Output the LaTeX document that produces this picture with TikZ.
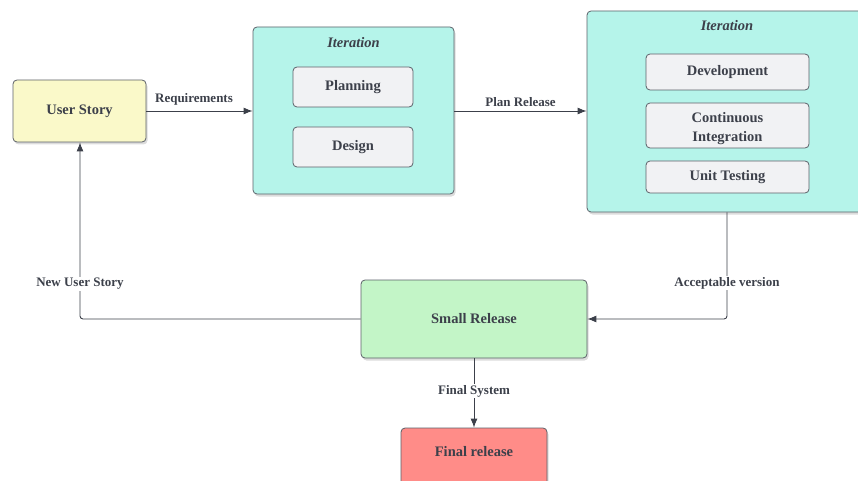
\documentclass[tikz,border=0pt]{standalone}
\usepackage{fontspec}
\setmainfont{Liberation Serif}
\usetikzlibrary{shadows,arrows.meta}

\definecolor{ink}{HTML}{3C404A}
\definecolor{edge}{HTML}{5C6169}
\definecolor{storyfill}{HTML}{FAF9C9}
\definecolor{iterfill}{HTML}{B5F4EA}
\definecolor{taskfill}{HTML}{F1F2F4}
\definecolor{releasefill}{HTML}{C3F5C7}
\definecolor{finalfill}{HTML}{FF8C88}

\tikzset{
  box/.style={draw=edge, line width=0.8pt, rounded corners=4pt,
    text=ink, font=\fontsize{14.5}{17}\selectfont\bfseries, align=center,
    drop shadow={opacity=0.28, shadow xshift=1.5pt, shadow yshift=-2.5pt}},
  taskbox/.style={draw=edge, line width=0.8pt, rounded corners=4pt, fill=taskfill,
    text=ink, font=\fontsize{14.5}{19}\selectfont\bfseries, align=center,
    minimum width=120pt},
  boxtext/.style={text=ink, font=\fontsize{14.5}{19}\selectfont\bfseries, align=center},
  flow/.style={draw=ink, line width=0.9pt, -{Latex[length=9pt,width=7pt]}},
  lbl/.style={text=ink, font=\fontsize{13}{15}\selectfont\bfseries},
  lblbg/.style={lbl, fill=white, inner sep=1.5pt},
}

\begin{document}
\begin{tikzpicture}[x=1pt, y=-1pt]
\useasboundingbox (0,0) rectangle (858,481);

% stages
\node[box, fill=storyfill, minimum width=133pt, minimum height=62pt] (story) at (79.5,111) {User Story};
\node[box, fill=iterfill, minimum width=201pt, minimum height=167pt] (iterA) at (353.5,110.5) {};
\node[box, fill=iterfill, minimum width=290pt, minimum height=201pt] (iterB) at (732,111.5) {};
\node[box, fill=releasefill, minimum width=226pt, minimum height=78pt] (small) at (474,319) {Small Release};
\node[box, fill=finalfill, minimum width=146pt, minimum height=62pt] (final) at (474,459) {};
\node[boxtext] (finallbl) at (474,452) {Final release};

% first iteration
\node[boxtext, font=\fontsize{14.5}{17}\selectfont\bfseries\itshape] (titleA) at (353.5,43) {Iteration};
\node[taskbox, minimum height=40pt] (plan) at (353,87) {Planning};
\node[taskbox, minimum height=40pt] (design) at (353,147) {Design};

% second iteration
\node[boxtext, font=\fontsize{14.5}{17}\selectfont\bfseries\itshape] (titleB) at (727,26) {Iteration};
\node[taskbox, minimum width=163pt, minimum height=36pt] (dev) at (727.5,72) {Development};
\node[taskbox, minimum width=163pt, minimum height=45pt] (ci) at (727.5,125.5) {};
\node[boxtext] (citext) at (727.5,129) {Continuous\\Integration};
\node[taskbox, minimum width=163pt, minimum height=32pt] (unit) at (727.5,177) {Unit Testing};

% connectors
\coordinate (bend1) at (727,319);
\coordinate (bend2) at (80,319);
\draw[flow] (story.east |- 0,111) -- (iterA.west |- 0,111);
\node[lbl] (req) at (194,99) {Requirements};
\draw[flow] (iterA.east |- 0,111) -- (iterB.west |- 0,111)
  node[lbl, midway, above=1pt] (relplan) {Plan Release};
\draw[flow, rounded corners=3pt] (iterB.south -| bend1) -- (bend1) -- (small.east);
\node[lblbg] (accept) at (727,283) {Acceptable version};
\draw[flow, rounded corners=3pt] (small.west) -- (bend2) -- (story.south -| bend2);
\node[lblbg] (newstory) at (80,284) {New User Story};
\draw[flow] (small.south) -- (final.north);
\node[lblbg] (finalsys) at (474,391) {Final System};
\end{tikzpicture}
\end{document}
